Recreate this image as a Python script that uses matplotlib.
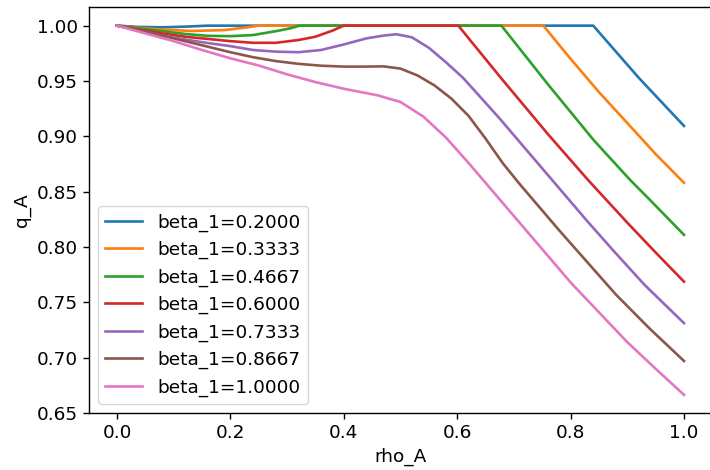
import matplotlib
matplotlib.use("agg")
import matplotlib.pyplot as plt
import numpy as np

betas = [0.2, 1/3, 0.4667, 0.6, 0.7333, 0.8667, 1.0]

# values
rho_b1 = [0, .04, .08, .12, .16, .84, .92, 1.0]
q_b1 = [1, .9988, .9985, .9991, 1.0, 1.0, .953, .9094]

rho_b2 = [0, .04, .08, .13, .19, .23, .25, .752, .80, .85, .90, .95, 1.0]
q_b2 = [1, .998, .9965, .9952, .996, .9985, 1.0, 1.0, .970, .940, .912, .884, .858]

rho_b3 = [0, .04, .08, .12, .16, .20, .24, .28, .305, .322, .678, .76, .84, .905, .94, 1.0]
q_b3 = [1, .9975, .995, .9925, .9908, .9905, .9915, .995, .9975, 1.0, 1.0, .947, .897, .8606, .8425, .811]

rho_b4 = [0, .04, .08, .12, .16, .20, .24, .28, .32, .35, .38, .40, .602, .68, .76, .83, .90, .95, 1.0]
q_b4 = [1, .9965, .993, .990, .988, .986, .9845, .9845, .987, .990, .9955, 1.0, 1.0, .951, .902, .861, .822, .795, .7687]

rho_b5 = [0, .04, .08, .12, .16, .20, .24, .28, .32, .36, .40, .44, .47, .493, .52, .55, .58, .61, .64,
          .675, .71, .74, .78, .83, .875, .93, 1.0]
q_b5 = [1, .9955, .991, .9875, .9843, .9815, .978, .9765, .976, .978, .983, .9885, .991, .9922, .9895,
        .980, .967, .953, .936, .916, .895, .877, .853, .823, .797, .766, .7312]

rho_b6 = [0, .04, .08, .12, .16, .20, .24, .28, .32, .36, .40, .44, .47, .50, .53, .56, .59, .62, .65,
          .68, .71, .74, .78, .83, .88, .94, 1.0]
q_b6 = [1, .9958, .991, .986, .981, .976, .9715, .968, .9655, .9638, .963, .963, .9632, .9612, .955,
        .946, .934, .9185, .898, .876, .857, .839, .815, .786, .757, .726, .697]

rho_b7 = [0, .05, .10, .15, .20, .25, .30, .35, .40, .46, .50, .54, .58, .62, .66, .70, .75, .80, .85,
          .90, .95, 1.0]
q_b7 = [1, .993, .986, .978, .9705, .964, .956, .949, .943, .937, .931, .918, .899, .876, .852, .828,
        .798, .768, .741, .714, .690, .6664]

curves = [(rho_b1, q_b1), (rho_b2, q_b2), (rho_b3, q_b3), (rho_b4, q_b4),
          (rho_b5, q_b5), (rho_b6, q_b6), (rho_b7, q_b7)]

plt.rcParams["font.size"] = 13.3
plt.rcParams["xtick.major.size"] = 4.4
plt.rcParams["ytick.major.size"] = 4.4
plt.rcParams["xtick.major.width"] = 1.0
plt.rcParams["ytick.major.width"] = 1.0
plt.rcParams["axes.linewidth"] = 1.0

fig = plt.figure(figsize=(7.1, 4.7), dpi=100)
ax = fig.add_axes([0.1248, 0.1206, 0.8785, 0.8641])

for b, (r, q) in zip(betas, curves):
    ax.plot(r, q, lw=1.9, label="beta_1={:.4f}".format(b))

ax.set_xlabel("rho_A")
ax.set_ylabel("q_A")
ax.set_yticks(np.arange(0.65, 1.001, 0.05))
ax.legend(loc="lower left")

fig.savefig("out.png", dpi=100)
